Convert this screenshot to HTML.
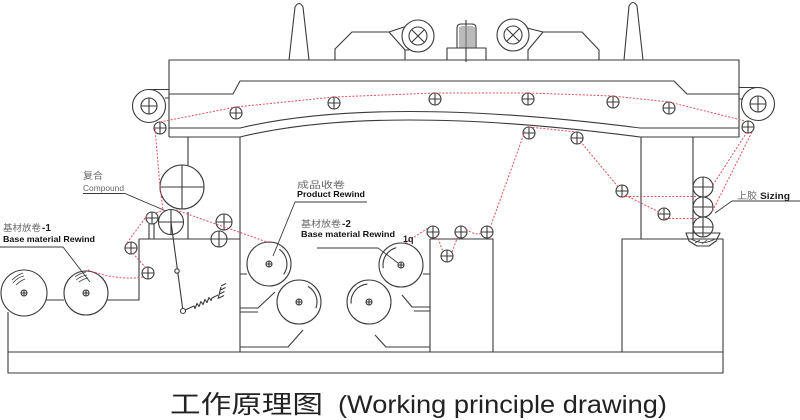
<!DOCTYPE html>
<html><head><meta charset="utf-8"><style>
html,body{margin:0;padding:0;background:#fff;}
svg{display:block;}
</style></head><body>
<svg width="800" height="420" viewBox="0 0 800 420" xmlns="http://www.w3.org/2000/svg">
<defs>
<g id="i6"><circle r="6"/><path d="M-6 0H6M0 -6V6"/></g>
<g id="i8"><circle r="8"/><path d="M-8 0H8M0 -8V8"/></g>
<g id="c3"><circle r="3"/><path d="M-3 0H3M0 -3V3"/></g>
</defs>
<rect width="800" height="420" fill="#fff"/>
<g stroke="#3a3a3a" stroke-width="1.1" fill="none" stroke-linejoin="round">
<!-- beam outline -->
<path d="M169,137 V60 H739 V137 H640 Q380,103 240,137 H169"/>
<path d="M169,94 H233 L240,81 H674 L687,94 H739"/>
<path d="M169,128 H240 Q380,95 640,128 H739"/>
<!-- pillars -->
<path d="M240,137 V352 M641,137 V239 M693,137 V239 M188,137 V165 M188,212 V239"/>
<!-- spikes -->
<path d="M289,60 L295,7 Q299,0 303,7 L309,60"/>
<path d="M624,60 L629,6 Q633,-1 637,6 L643,60"/>
<!-- housings -->
<path d="M335,60 V49 L352,32 H389 L405,50 V60"/>
<path d="M389,32 L404,27 M405,50 L409,50"/>
<path d="M528,60 V50 L543,32 H582 L599,50 V60"/>
<path d="M543,32 L527,28"/>
<!-- X rollers -->
<circle cx="418" cy="36" r="16"/><circle cx="418" cy="36" r="9"/><path d="M412,30 L424,42 M424,30 L412,42"/>
<circle cx="513" cy="35" r="16"/><circle cx="513" cy="35" r="9"/><path d="M507,29 L519,41 M519,29 L507,41"/>
<!-- motor -->
<rect x="447" y="48" width="39" height="12"/>
<path d="M457,48 V28 Q457,24 461,24 H472 Q476,24 476,28 V48"/>
<path d="M460,27 V48 M462,26 V48 M464,26 V48 M468,26 V48 M470,26 V48 M472,26 V48 M474,27 V48" stroke-width="0.7"/>
<path d="M466,20 V62"/>
<!-- side rollers on beam -->
<circle cx="149" cy="106" r="16.5"/><circle cx="149" cy="106" r="8"/><path d="M141,106 H157 M149,98 V114"/>
<path d="M149,89.5 H169 M165,98 H169"/>
<circle cx="758" cy="104" r="16.5"/><circle cx="758" cy="104" r="8"/><path d="M750,104 H766 M758,96 V112"/>
<path d="M739,87.5 H758 M739,99 H743"/>
<!-- top idlers -->
<use href="#i6" x="160" y="128"/>
<use href="#i6" x="236" y="113"/>
<use href="#i6" x="334" y="103"/>
<use href="#i6" x="435" y="99"/>
<use href="#i6" x="528" y="99"/>
<use href="#i6" x="613" y="102"/>
<use href="#i6" x="669" y="108"/>
<use href="#i6" x="748" y="127"/>
<use href="#i6" x="529" y="133"/>
<use href="#i6" x="577" y="138"/>
<use href="#i6" x="622" y="191"/>
<use href="#i6" x="664" y="214"/>
<!-- sizing stack -->
<circle cx="703" cy="187" r="10"/><path d="M693,187 H713 M703,177 V197"/>
<circle cx="703" cy="207" r="10"/><path d="M693,207 H713 M703,197 V217"/>
<circle cx="703" cy="227" r="10"/><path d="M693,227 H713 M703,217 V237"/>
<path d="M686,233 H720 L716,241 L709,246 H697 L689,241 Z"/>
<path d="M691,239 Q703,246 715,239 M695,243 L700,240 M702,244 L707,240" stroke-width="0.8"/>
<!-- compound section -->
<circle cx="182" cy="187" r="22"/><path d="M160,187 H204 M182,165 V209"/>
<circle cx="171" cy="222" r="12.5"/><path d="M158.5,222 H183.5 M171,209.5 V234.5"/>
<use href="#i6" x="152" y="218"/>
<path d="M149,224 V239 M154,224 V239"/>
<use href="#i8" x="224" y="222"/>
<use href="#i8" x="219" y="239"/>
<use href="#i6" x="131" y="248"/>
<use href="#i6" x="148" y="273"/>
<!-- lever and spring -->
<path d="M171,222 L183,311"/>
<circle cx="177" cy="271" r="2.2" fill="#fff"/>
<circle cx="183" cy="311" r="2.5" fill="#fff"/>
<path d="M185,310 L194,306 L195,308.5 L197,303.5 L199,306.5 L201,301.5 L203,304.5 L205,299.5 L207,302.5 L209,297.5 L211,300.5 L212,298 L218,295"/>
<path d="M218,299 L221,287 M219.5,294 l5,-2.5 M220.5,290 l5,-2.5 M221,286 l5,-2.5 M219,298 l5,-2.5"/>
<!-- left block and base -->
<path d="M139,239 H240 M139,239 V300 H107 M46,300 H64"/>
<path d="M8,312 V373 H723 V239 H622 V352 M8,352 H723"/>
<path d="M430,352 V239 H493 V352"/>
<!-- base material 1 rolls -->
<circle cx="24" cy="293" r="23"/><use href="#c3" x="24" y="293"/>
<circle cx="86" cy="293" r="22"/><use href="#c3" x="86" y="293"/>
<path d="M12,280 Q17,275 23,273 M13,283 Q18,277 24,276 M16,285 Q20,281 25,279" stroke-width="0.8"/>
<path d="M75,277 Q80,273 86,272 M76,280 Q81,276 87,275 M79,282 Q83,279 88,278" stroke-width="0.8"/>
<!-- product rewind rolls -->
<circle cx="269" cy="264" r="22"/><use href="#c3" x="269" y="264"/>
<path d="M279.3,249.3 A18,18 0 0 1 283.7,274.3"/>
<circle cx="299" cy="302" r="22"/><use href="#c3" x="299" y="302"/>
<path d="M308,286.4 A18,18 0 0 1 315.9,308.2"/>
<path d="M240,274 H247 M240,308 H258 L275,292 M240,312 H258 M240,347 H288 L303,330"/>
<!-- base material 2 rolls -->
<circle cx="401" cy="265" r="22"/><use href="#c3" x="401" y="265"/>
<path d="M383.3,268.1 A18,18 0 0 1 396.3,247.6"/>
<circle cx="369" cy="302" r="22"/><use href="#c3" x="369" y="302"/>
<path d="M351.1,303.6 A18,18 0 0 1 367.4,284.1"/>
<path d="M430,274 H423 M430,307 H412 L402,295 M430,311 H414 M430,347 H386 L375,335"/>
<!-- block idlers -->
<use href="#i6" x="433" y="232"/>
<use href="#i6" x="447" y="256"/>
<use href="#i6" x="461" y="232"/>
<use href="#i6" x="487" y="232"/>
<!-- leaders -->
<path d="M83,193.5 H125 L166,211" stroke-width="0.9"/>
<path d="M0,247 H63 L90,282" stroke-width="0.9"/>
<path d="M367,202 H295 L273,256" stroke-width="0.9"/>
<path d="M317,248 H378 L398,263" stroke-width="0.9"/>
<path d="M800,201 H732 L715,213" stroke-width="0.9"/>
</g>
<!-- red web path -->
<g stroke="#e0505a" stroke-width="1" fill="none" stroke-dasharray="2,1.6">
<path d="M160,122 L236,107 L334,97 L435,93 L528,93 L613,96 L669,102 L745,121"/>
<path d="M155,128 L160,187 L163,210"/>
<path d="M88,270 Q118,281 143,277"/>
<path d="M146,268 L130,250"/>
<path d="M127,243 L148,214"/>
<path d="M156,213 L164,210"/>
<path d="M176,210 L270,243"/>
<path d="M405,243 L428,228"/>
<path d="M437,235 L443,252"/>
<path d="M452,252 L458,236"/>
<path d="M466,229 Q475,236 482,233"/>
<path d="M490,228 L525,131"/>
<path d="M529,127 L576,132"/>
<path d="M580,141 L619,188"/>
<path d="M625,195 L661,213"/>
<path d="M622,196.5 H696"/>
<path d="M665,218.5 H696"/>
<path d="M747,132 L713,185"/>
<path d="M752,132 L712,212"/>
</g>
<!-- labels -->
<g font-family="'Liberation Sans','Noto Sans CJK SC',sans-serif">
<text x="83" y="179" font-size="9.5" fill="#666" textLength="20" lengthAdjust="spacingAndGlyphs">复合</text>
<text x="83" y="191" font-size="8.5" fill="#666" textLength="41" lengthAdjust="spacingAndGlyphs">Compound</text>
<text x="3" y="231" font-size="9" fill="#666" textLength="38" lengthAdjust="spacingAndGlyphs">基材放卷</text>
<text x="42" y="231" font-size="10" font-weight="bold" fill="#222">-1</text>
<text x="3" y="242" font-size="8.5" font-weight="bold" fill="#111" textLength="92" lengthAdjust="spacingAndGlyphs">Base material Rewind</text>
<text x="297" y="188" font-size="9" fill="#666" textLength="48" lengthAdjust="spacingAndGlyphs">成品收卷</text>
<text x="297" y="197" font-size="8.5" font-weight="bold" fill="#111" textLength="68" lengthAdjust="spacingAndGlyphs">Product Rewind</text>
<text x="301" y="227" font-size="9" fill="#666" textLength="40" lengthAdjust="spacingAndGlyphs">基材放卷</text>
<text x="342" y="227" font-size="10" font-weight="bold" fill="#222">-2</text>
<text x="301" y="237" font-size="8.5" font-weight="bold" fill="#111" textLength="94" lengthAdjust="spacingAndGlyphs">Base material Rewind</text>
<text x="403" y="242" font-size="9" font-weight="bold" fill="#222">1q</text>
<text x="737" y="199" font-size="9.5" fill="#666" textLength="20" lengthAdjust="spacingAndGlyphs">上胶</text>
<text x="760" y="199" font-size="9" font-weight="bold" fill="#222" textLength="30" lengthAdjust="spacingAndGlyphs">Sizing</text>
<text x="170" y="413" font-size="25" fill="#222" textLength="153" lengthAdjust="spacingAndGlyphs">工作原理图</text>
<text x="338" y="413" font-size="25" fill="#222" textLength="329" lengthAdjust="spacingAndGlyphs">(Working principle drawing)</text>
</g>
</svg>
</body></html>
